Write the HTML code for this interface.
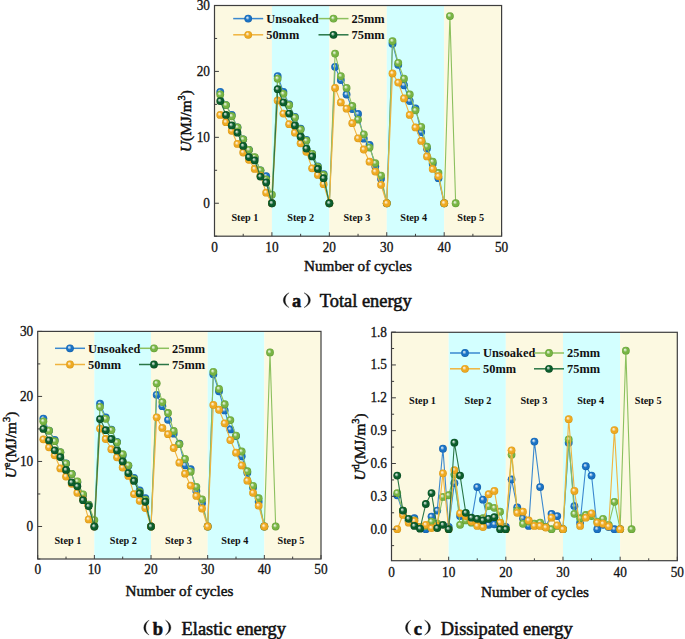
<!DOCTYPE html><html><head><meta charset="utf-8"><style>
html,body{margin:0;padding:0;background:#fff;}
svg{display:block;font-family:"Liberation Serif",serif;}
.tk{font-size:14px;fill:#111;stroke:#111;stroke-width:0.3px;}
.at{font-size:15.2px;fill:#111;stroke:#111;stroke-width:0.45px;}
.lg{font-size:12.4px;font-weight:bold;fill:#111;}
.st{font-size:10.2px;font-weight:bold;fill:#111;}
.cp{font-size:18.4px;fill:#111;stroke:#111;stroke-width:0.55px;}
.sup{font-size:10.5px;}
</style></head><body>
<svg width="685" height="639" viewBox="0 0 685 639">
<defs>
<radialGradient id="spb" cx="0.5" cy="0.5" r="0.5" fx="0.36" fy="0.34"><stop offset="0" stop-color="#e8f1f9"/><stop offset="0.22" stop-color="#a3c7e7"/><stop offset="0.52" stop-color="#1a72c4"/><stop offset="0.8" stop-color="#1a72c4"/><stop offset="1" stop-color="#125da7"/></radialGradient>
<radialGradient id="spg" cx="0.5" cy="0.5" r="0.5" fx="0.36" fy="0.34"><stop offset="0" stop-color="#f2f8ec"/><stop offset="0.22" stop-color="#c9e1b4"/><stop offset="0.52" stop-color="#78b444"/><stop offset="0.8" stop-color="#78b444"/><stop offset="1" stop-color="#5f9b32"/></radialGradient>
<radialGradient id="spo" cx="0.5" cy="0.5" r="0.5" fx="0.36" fy="0.34"><stop offset="0" stop-color="#fdf6e9"/><stop offset="0.22" stop-color="#f8dda7"/><stop offset="0.52" stop-color="#eeaa22"/><stop offset="0.8" stop-color="#eeaa22"/><stop offset="1" stop-color="#d79414"/></radialGradient>
<radialGradient id="spk" cx="0.5" cy="0.5" r="0.5" fx="0.36" fy="0.34"><stop offset="0" stop-color="#e7efea"/><stop offset="0.22" stop-color="#9dbfab"/><stop offset="0.52" stop-color="#0b5e2c"/><stop offset="0.8" stop-color="#0b5e2c"/><stop offset="1" stop-color="#084821"/></radialGradient>
</defs>
<rect width="685" height="639" fill="#fff"/>
<rect x="214.5" y="5.5" width="57.42" height="230.7" fill="#fcf9e1"/>
<rect x="271.92" y="5.5" width="57.42" height="230.7" fill="#d3ffff"/>
<rect x="329.34" y="5.5" width="57.42" height="230.7" fill="#fcf9e1"/>
<rect x="386.76" y="5.5" width="57.42" height="230.7" fill="#d3ffff"/>
<rect x="444.18" y="5.5" width="57.42" height="230.7" fill="#fcf9e1"/>
<text x="244.9" y="221.34" class="st" text-anchor="middle">Step 1</text>
<text x="300.7" y="221.34" class="st" text-anchor="middle">Step 2</text>
<text x="356.9" y="221.34" class="st" text-anchor="middle">Step 3</text>
<text x="413.7" y="221.34" class="st" text-anchor="middle">Step 4</text>
<text x="470.7" y="221.34" class="st" text-anchor="middle">Step 5</text>
<path d="M220.24 91.85 L225.98 105.03 L231.73 114.92 L237.47 127.44 L243.21 139.31 L248.95 149.85 L254.69 157.76 L260.44 170.29 L266.18 176.22 L271.92 203.24 L277.66 76.03 L283.4 91.85 L289.15 104.37 L294.89 116.9 L300.63 128.76 L306.37 139.97 L312.11 153.81 L317.86 166.33 L323.6 174.24 L329.34 203.24 L335.08 66.8 L340.82 79.98 L346.57 94.48 L352.31 108.99 L358.05 113.93 L363.79 138.65 L369.53 144.91 L375.28 166.33 L381.02 178.85 L386.76 203.24 L392.5 43.73 L398.24 64.82 L403.99 85.26 L409.73 101.08 L415.47 108.33 L421.21 132.06 L426.95 148.53 L432.7 163.69 L438.44 178.2 L444.18 203.24" fill="none" stroke="#3a88cf" stroke-width="1.1" stroke-linejoin="round"/>
<circle cx="220.24" cy="91.85" r="3.9" fill="url(#spb)"/>
<circle cx="225.98" cy="105.03" r="3.9" fill="url(#spb)"/>
<circle cx="231.73" cy="114.92" r="3.9" fill="url(#spb)"/>
<circle cx="237.47" cy="127.44" r="3.9" fill="url(#spb)"/>
<circle cx="243.21" cy="139.31" r="3.9" fill="url(#spb)"/>
<circle cx="248.95" cy="149.85" r="3.9" fill="url(#spb)"/>
<circle cx="254.69" cy="157.76" r="3.9" fill="url(#spb)"/>
<circle cx="260.44" cy="170.29" r="3.9" fill="url(#spb)"/>
<circle cx="266.18" cy="176.22" r="3.9" fill="url(#spb)"/>
<circle cx="271.92" cy="203.24" r="3.9" fill="url(#spb)"/>
<circle cx="277.66" cy="76.03" r="3.9" fill="url(#spb)"/>
<circle cx="283.4" cy="91.85" r="3.9" fill="url(#spb)"/>
<circle cx="289.15" cy="104.37" r="3.9" fill="url(#spb)"/>
<circle cx="294.89" cy="116.9" r="3.9" fill="url(#spb)"/>
<circle cx="300.63" cy="128.76" r="3.9" fill="url(#spb)"/>
<circle cx="306.37" cy="139.97" r="3.9" fill="url(#spb)"/>
<circle cx="312.11" cy="153.81" r="3.9" fill="url(#spb)"/>
<circle cx="317.86" cy="166.33" r="3.9" fill="url(#spb)"/>
<circle cx="323.6" cy="174.24" r="3.9" fill="url(#spb)"/>
<circle cx="329.34" cy="203.24" r="3.9" fill="url(#spb)"/>
<circle cx="335.08" cy="66.8" r="3.9" fill="url(#spb)"/>
<circle cx="340.82" cy="79.98" r="3.9" fill="url(#spb)"/>
<circle cx="346.57" cy="94.48" r="3.9" fill="url(#spb)"/>
<circle cx="352.31" cy="108.99" r="3.9" fill="url(#spb)"/>
<circle cx="358.05" cy="113.93" r="3.9" fill="url(#spb)"/>
<circle cx="363.79" cy="138.65" r="3.9" fill="url(#spb)"/>
<circle cx="369.53" cy="144.91" r="3.9" fill="url(#spb)"/>
<circle cx="375.28" cy="166.33" r="3.9" fill="url(#spb)"/>
<circle cx="381.02" cy="178.85" r="3.9" fill="url(#spb)"/>
<circle cx="386.76" cy="203.24" r="3.9" fill="url(#spb)"/>
<circle cx="392.5" cy="43.73" r="3.9" fill="url(#spb)"/>
<circle cx="398.24" cy="64.82" r="3.9" fill="url(#spb)"/>
<circle cx="403.99" cy="85.26" r="3.9" fill="url(#spb)"/>
<circle cx="409.73" cy="101.08" r="3.9" fill="url(#spb)"/>
<circle cx="415.47" cy="108.33" r="3.9" fill="url(#spb)"/>
<circle cx="421.21" cy="132.06" r="3.9" fill="url(#spb)"/>
<circle cx="426.95" cy="148.53" r="3.9" fill="url(#spb)"/>
<circle cx="432.7" cy="163.69" r="3.9" fill="url(#spb)"/>
<circle cx="438.44" cy="178.2" r="3.9" fill="url(#spb)"/>
<circle cx="444.18" cy="203.24" r="3.9" fill="url(#spb)"/>
<path d="M220.24 94.48 L225.98 105.03 L231.73 116.24 L237.47 127.44 L243.21 139.31 L248.95 149.85 L254.69 157.1 L260.44 170.29 L266.18 179.51 L271.92 194.67 L277.66 78.66 L283.4 93.83 L289.15 105.03 L294.89 117.55 L300.63 129.42 L306.37 140.62 L312.11 153.81 L317.86 166.99 L323.6 174.9 L329.34 203.24 L335.08 53.62 L340.82 76.03 L346.57 87.89 L352.31 106.02 L358.05 119.53 L363.79 134.36 L369.53 147.55 L375.28 163.04 L381.02 175.56 L386.76 203.24 L392.5 41.09 L398.24 62.85 L403.99 78.66 L409.73 94.48 L415.47 110.3 L421.21 126.78 L426.95 146.56 L432.7 161.72 L438.44 172.92 L444.18 203.24 L449.92 16.05 L455.66 203.24" fill="none" stroke="#8cc05e" stroke-width="1.1" stroke-linejoin="round"/>
<circle cx="220.24" cy="94.48" r="3.9" fill="url(#spg)"/>
<circle cx="225.98" cy="105.03" r="3.9" fill="url(#spg)"/>
<circle cx="231.73" cy="116.24" r="3.9" fill="url(#spg)"/>
<circle cx="237.47" cy="127.44" r="3.9" fill="url(#spg)"/>
<circle cx="243.21" cy="139.31" r="3.9" fill="url(#spg)"/>
<circle cx="248.95" cy="149.85" r="3.9" fill="url(#spg)"/>
<circle cx="254.69" cy="157.1" r="3.9" fill="url(#spg)"/>
<circle cx="260.44" cy="170.29" r="3.9" fill="url(#spg)"/>
<circle cx="266.18" cy="179.51" r="3.9" fill="url(#spg)"/>
<circle cx="271.92" cy="194.67" r="3.9" fill="url(#spg)"/>
<circle cx="277.66" cy="78.66" r="3.9" fill="url(#spg)"/>
<circle cx="283.4" cy="93.83" r="3.9" fill="url(#spg)"/>
<circle cx="289.15" cy="105.03" r="3.9" fill="url(#spg)"/>
<circle cx="294.89" cy="117.55" r="3.9" fill="url(#spg)"/>
<circle cx="300.63" cy="129.42" r="3.9" fill="url(#spg)"/>
<circle cx="306.37" cy="140.62" r="3.9" fill="url(#spg)"/>
<circle cx="312.11" cy="153.81" r="3.9" fill="url(#spg)"/>
<circle cx="317.86" cy="166.99" r="3.9" fill="url(#spg)"/>
<circle cx="323.6" cy="174.9" r="3.9" fill="url(#spg)"/>
<circle cx="329.34" cy="203.24" r="3.9" fill="url(#spg)"/>
<circle cx="335.08" cy="53.62" r="3.9" fill="url(#spg)"/>
<circle cx="340.82" cy="76.03" r="3.9" fill="url(#spg)"/>
<circle cx="346.57" cy="87.89" r="3.9" fill="url(#spg)"/>
<circle cx="352.31" cy="106.02" r="3.9" fill="url(#spg)"/>
<circle cx="358.05" cy="119.53" r="3.9" fill="url(#spg)"/>
<circle cx="363.79" cy="134.36" r="3.9" fill="url(#spg)"/>
<circle cx="369.53" cy="147.55" r="3.9" fill="url(#spg)"/>
<circle cx="375.28" cy="163.04" r="3.9" fill="url(#spg)"/>
<circle cx="381.02" cy="175.56" r="3.9" fill="url(#spg)"/>
<circle cx="386.76" cy="203.24" r="3.9" fill="url(#spg)"/>
<circle cx="392.5" cy="41.09" r="3.9" fill="url(#spg)"/>
<circle cx="398.24" cy="62.85" r="3.9" fill="url(#spg)"/>
<circle cx="403.99" cy="78.66" r="3.9" fill="url(#spg)"/>
<circle cx="409.73" cy="94.48" r="3.9" fill="url(#spg)"/>
<circle cx="415.47" cy="110.3" r="3.9" fill="url(#spg)"/>
<circle cx="421.21" cy="126.78" r="3.9" fill="url(#spg)"/>
<circle cx="426.95" cy="146.56" r="3.9" fill="url(#spg)"/>
<circle cx="432.7" cy="161.72" r="3.9" fill="url(#spg)"/>
<circle cx="438.44" cy="172.92" r="3.9" fill="url(#spg)"/>
<circle cx="444.18" cy="203.24" r="3.9" fill="url(#spg)"/>
<circle cx="449.92" cy="16.05" r="3.9" fill="url(#spg)"/>
<circle cx="455.66" cy="203.24" r="3.9" fill="url(#spg)"/>
<path d="M220.24 114.92 L225.98 122.17 L231.73 130.74 L237.47 143.92 L243.21 152.49 L248.95 159.74 L254.69 168.97 L260.44 175.56 L266.18 192.7 L271.92 203.24 L277.66 100.42 L283.4 113.6 L289.15 124.15 L294.89 132.71 L300.63 143.26 L306.37 151.83 L312.11 168.31 L317.86 174.9 L323.6 184.13 L329.34 203.24 L335.08 87.89 L340.82 102.39 L346.57 108.66 L352.31 123.16 L358.05 138.32 L363.79 149.52 L369.53 161.72 L375.28 171.6 L381.02 184.79 L386.76 203.24 L392.5 73.39 L398.24 82.62 L403.99 98.44 L409.73 114.92 L415.47 127.44 L421.21 140.95 L426.95 156.44 L432.7 168.97 L438.44 176.22 L444.18 203.24" fill="none" stroke="#f0b43e" stroke-width="1.1" stroke-linejoin="round"/>
<circle cx="220.24" cy="114.92" r="3.9" fill="url(#spo)"/>
<circle cx="225.98" cy="122.17" r="3.9" fill="url(#spo)"/>
<circle cx="231.73" cy="130.74" r="3.9" fill="url(#spo)"/>
<circle cx="237.47" cy="143.92" r="3.9" fill="url(#spo)"/>
<circle cx="243.21" cy="152.49" r="3.9" fill="url(#spo)"/>
<circle cx="248.95" cy="159.74" r="3.9" fill="url(#spo)"/>
<circle cx="254.69" cy="168.97" r="3.9" fill="url(#spo)"/>
<circle cx="260.44" cy="175.56" r="3.9" fill="url(#spo)"/>
<circle cx="266.18" cy="192.7" r="3.9" fill="url(#spo)"/>
<circle cx="271.92" cy="203.24" r="3.9" fill="url(#spo)"/>
<circle cx="277.66" cy="100.42" r="3.9" fill="url(#spo)"/>
<circle cx="283.4" cy="113.6" r="3.9" fill="url(#spo)"/>
<circle cx="289.15" cy="124.15" r="3.9" fill="url(#spo)"/>
<circle cx="294.89" cy="132.71" r="3.9" fill="url(#spo)"/>
<circle cx="300.63" cy="143.26" r="3.9" fill="url(#spo)"/>
<circle cx="306.37" cy="151.83" r="3.9" fill="url(#spo)"/>
<circle cx="312.11" cy="168.31" r="3.9" fill="url(#spo)"/>
<circle cx="317.86" cy="174.9" r="3.9" fill="url(#spo)"/>
<circle cx="323.6" cy="184.13" r="3.9" fill="url(#spo)"/>
<circle cx="329.34" cy="203.24" r="3.9" fill="url(#spo)"/>
<circle cx="335.08" cy="87.89" r="3.9" fill="url(#spo)"/>
<circle cx="340.82" cy="102.39" r="3.9" fill="url(#spo)"/>
<circle cx="346.57" cy="108.66" r="3.9" fill="url(#spo)"/>
<circle cx="352.31" cy="123.16" r="3.9" fill="url(#spo)"/>
<circle cx="358.05" cy="138.32" r="3.9" fill="url(#spo)"/>
<circle cx="363.79" cy="149.52" r="3.9" fill="url(#spo)"/>
<circle cx="369.53" cy="161.72" r="3.9" fill="url(#spo)"/>
<circle cx="375.28" cy="171.6" r="3.9" fill="url(#spo)"/>
<circle cx="381.02" cy="184.79" r="3.9" fill="url(#spo)"/>
<circle cx="386.76" cy="203.24" r="3.9" fill="url(#spo)"/>
<circle cx="392.5" cy="73.39" r="3.9" fill="url(#spo)"/>
<circle cx="398.24" cy="82.62" r="3.9" fill="url(#spo)"/>
<circle cx="403.99" cy="98.44" r="3.9" fill="url(#spo)"/>
<circle cx="409.73" cy="114.92" r="3.9" fill="url(#spo)"/>
<circle cx="415.47" cy="127.44" r="3.9" fill="url(#spo)"/>
<circle cx="421.21" cy="140.95" r="3.9" fill="url(#spo)"/>
<circle cx="426.95" cy="156.44" r="3.9" fill="url(#spo)"/>
<circle cx="432.7" cy="168.97" r="3.9" fill="url(#spo)"/>
<circle cx="438.44" cy="176.22" r="3.9" fill="url(#spo)"/>
<circle cx="444.18" cy="203.24" r="3.9" fill="url(#spo)"/>
<path d="M220.24 101.08 L225.98 114.92 L231.73 125.46 L237.47 132.71 L243.21 145.9 L248.95 157.1 L254.69 160.4 L260.44 176.55 L266.18 182.48 L271.92 203.24 L277.66 89.21 L283.4 102.39 L289.15 113.6 L294.89 125.46 L300.63 136.67 L306.37 148.53 L312.11 156.44 L317.86 168.97 L323.6 178.2 L329.34 203.24" fill="none" stroke="#2a7646" stroke-width="1.1" stroke-linejoin="round"/>
<circle cx="220.24" cy="101.08" r="3.9" fill="url(#spk)"/>
<circle cx="225.98" cy="114.92" r="3.9" fill="url(#spk)"/>
<circle cx="231.73" cy="125.46" r="3.9" fill="url(#spk)"/>
<circle cx="237.47" cy="132.71" r="3.9" fill="url(#spk)"/>
<circle cx="243.21" cy="145.9" r="3.9" fill="url(#spk)"/>
<circle cx="248.95" cy="157.1" r="3.9" fill="url(#spk)"/>
<circle cx="254.69" cy="160.4" r="3.9" fill="url(#spk)"/>
<circle cx="260.44" cy="176.55" r="3.9" fill="url(#spk)"/>
<circle cx="266.18" cy="182.48" r="3.9" fill="url(#spk)"/>
<circle cx="271.92" cy="203.24" r="3.9" fill="url(#spk)"/>
<circle cx="277.66" cy="89.21" r="3.9" fill="url(#spk)"/>
<circle cx="283.4" cy="102.39" r="3.9" fill="url(#spk)"/>
<circle cx="289.15" cy="113.6" r="3.9" fill="url(#spk)"/>
<circle cx="294.89" cy="125.46" r="3.9" fill="url(#spk)"/>
<circle cx="300.63" cy="136.67" r="3.9" fill="url(#spk)"/>
<circle cx="306.37" cy="148.53" r="3.9" fill="url(#spk)"/>
<circle cx="312.11" cy="156.44" r="3.9" fill="url(#spk)"/>
<circle cx="317.86" cy="168.97" r="3.9" fill="url(#spk)"/>
<circle cx="323.6" cy="178.2" r="3.9" fill="url(#spk)"/>
<circle cx="329.34" cy="203.24" r="3.9" fill="url(#spk)"/>
<line x1="233.2" y1="18.6" x2="263.2" y2="18.6" stroke="#3a88cf" stroke-width="1.5"/>
<circle cx="248.2" cy="18.6" r="3.9" fill="url(#spb)"/>
<text x="266.2" y="23" class="lg">Unsoaked</text>
<line x1="318.5" y1="18.6" x2="348.5" y2="18.6" stroke="#8cc05e" stroke-width="1.5"/>
<circle cx="333.5" cy="18.6" r="3.9" fill="url(#spg)"/>
<text x="351.5" y="23" class="lg">25mm</text>
<line x1="233.2" y1="34.8" x2="263.2" y2="34.8" stroke="#f0b43e" stroke-width="1.5"/>
<circle cx="248.2" cy="34.8" r="3.9" fill="url(#spo)"/>
<text x="266.2" y="39.2" class="lg">50mm</text>
<line x1="318.5" y1="34.8" x2="348.5" y2="34.8" stroke="#2a7646" stroke-width="1.5"/>
<circle cx="333.5" cy="34.8" r="3.9" fill="url(#spk)"/>
<text x="351.5" y="39.2" class="lg">75mm</text>
<rect x="214.5" y="5.5" width="287.1" height="230.7" fill="none" stroke="#3e3e3e" stroke-width="1.2"/>
<line x1="214.5" y1="236.2" x2="214.5" y2="232.2" stroke="#3e3e3e" stroke-width="1"/>
<text x="214.5" y="252.2" class="tk" text-anchor="middle" textLength="6.65" lengthAdjust="spacingAndGlyphs">0</text>
<line x1="243.21" y1="236.2" x2="243.21" y2="233.8" stroke="#3e3e3e" stroke-width="1"/>
<line x1="271.92" y1="236.2" x2="271.92" y2="232.2" stroke="#3e3e3e" stroke-width="1"/>
<text x="271.92" y="252.2" class="tk" text-anchor="middle" textLength="13.3" lengthAdjust="spacingAndGlyphs">10</text>
<line x1="300.63" y1="236.2" x2="300.63" y2="233.8" stroke="#3e3e3e" stroke-width="1"/>
<line x1="329.34" y1="236.2" x2="329.34" y2="232.2" stroke="#3e3e3e" stroke-width="1"/>
<text x="329.34" y="252.2" class="tk" text-anchor="middle" textLength="13.3" lengthAdjust="spacingAndGlyphs">20</text>
<line x1="358.05" y1="236.2" x2="358.05" y2="233.8" stroke="#3e3e3e" stroke-width="1"/>
<line x1="386.76" y1="236.2" x2="386.76" y2="232.2" stroke="#3e3e3e" stroke-width="1"/>
<text x="386.76" y="252.2" class="tk" text-anchor="middle" textLength="13.3" lengthAdjust="spacingAndGlyphs">30</text>
<line x1="415.47" y1="236.2" x2="415.47" y2="233.8" stroke="#3e3e3e" stroke-width="1"/>
<line x1="444.18" y1="236.2" x2="444.18" y2="232.2" stroke="#3e3e3e" stroke-width="1"/>
<text x="444.18" y="252.2" class="tk" text-anchor="middle" textLength="13.3" lengthAdjust="spacingAndGlyphs">40</text>
<line x1="472.89" y1="236.2" x2="472.89" y2="233.8" stroke="#3e3e3e" stroke-width="1"/>
<line x1="501.6" y1="236.2" x2="501.6" y2="232.2" stroke="#3e3e3e" stroke-width="1"/>
<text x="501.6" y="252.2" class="tk" text-anchor="middle" textLength="13.3" lengthAdjust="spacingAndGlyphs">50</text>
<line x1="214.5" y1="236.2" x2="217.1" y2="236.2" stroke="#3e3e3e" stroke-width="1"/>
<line x1="214.5" y1="203.24" x2="218.9" y2="203.24" stroke="#3e3e3e" stroke-width="1"/>
<text x="210" y="207.64" class="tk" text-anchor="end" textLength="6.65" lengthAdjust="spacingAndGlyphs">0</text>
<line x1="214.5" y1="170.29" x2="217.1" y2="170.29" stroke="#3e3e3e" stroke-width="1"/>
<line x1="214.5" y1="137.33" x2="218.9" y2="137.33" stroke="#3e3e3e" stroke-width="1"/>
<text x="210" y="141.73" class="tk" text-anchor="end" textLength="13.3" lengthAdjust="spacingAndGlyphs">10</text>
<line x1="214.5" y1="104.37" x2="217.1" y2="104.37" stroke="#3e3e3e" stroke-width="1"/>
<line x1="214.5" y1="71.41" x2="218.9" y2="71.41" stroke="#3e3e3e" stroke-width="1"/>
<text x="210" y="75.81" class="tk" text-anchor="end" textLength="13.3" lengthAdjust="spacingAndGlyphs">20</text>
<line x1="214.5" y1="38.46" x2="217.1" y2="38.46" stroke="#3e3e3e" stroke-width="1"/>
<line x1="214.5" y1="5.5" x2="218.9" y2="5.5" stroke="#3e3e3e" stroke-width="1"/>
<text x="210" y="9.9" class="tk" text-anchor="end" textLength="13.3" lengthAdjust="spacingAndGlyphs">30</text>
<text x="358" y="271.3" class="at" text-anchor="middle">Number of cycles</text>
<text transform="translate(190.5 121) rotate(-90)" class="at" text-anchor="middle"><tspan font-style="italic">U</tspan>(MJ/m<tspan class="sup" dy="-6">3</tspan><tspan dy="6">)</tspan></text>
<path d="M289.1 292.8 C281.37 296.06 281.37 304.34 289.1 307.6 C283.9 304.05 283.9 296.35 289.1 292.8 Z" fill="#111" stroke="#111" stroke-width="0.35"/>
<text x="291.9" y="307.1" class="cp" font-weight="bold">a</text>
<path d="M304 292.8 C312.53 296.06 312.53 304.34 304 307.6 C310 304.05 310 296.35 304 292.8 Z" fill="#111" stroke="#111" stroke-width="0.35"/>
<text x="319.8" y="307.1" class="cp">Total energy</text>
<rect x="37.7" y="331.4" width="56.66" height="227.6" fill="#fcf9e1"/>
<rect x="94.36" y="331.4" width="56.66" height="227.6" fill="#d3ffff"/>
<rect x="151.02" y="331.4" width="56.66" height="227.6" fill="#fcf9e1"/>
<rect x="207.68" y="331.4" width="56.66" height="227.6" fill="#d3ffff"/>
<rect x="264.34" y="331.4" width="56.66" height="227.6" fill="#fcf9e1"/>
<text x="67.9" y="544.39" class="st" text-anchor="middle">Step 1</text>
<text x="123.3" y="544.39" class="st" text-anchor="middle">Step 2</text>
<text x="178.4" y="544.39" class="st" text-anchor="middle">Step 3</text>
<text x="234.8" y="544.39" class="st" text-anchor="middle">Step 4</text>
<text x="291" y="544.39" class="st" text-anchor="middle">Step 5</text>
<path d="M43.37 418.6 L49.03 430.57 L54.7 439.87 L60.36 452.35 L66.03 463.47 L71.7 473.81 L77.36 482.36 L83.03 495.08 L88.69 504.6 L94.36 526.49 L100.03 403.71 L105.69 417.37 L111.36 429.59 L117.02 441.82 L122.69 455.51 L128.36 465.81 L134.02 477.97 L139.69 490.36 L145.35 498.2 L151.02 526.49 L156.69 394.84 L162.35 406.18 L168.02 419.84 L173.68 433.69 L179.35 443.57 L185.02 465.26 L190.68 469.07 L196.35 490.98 L202.01 503.21 L207.68 526.49 L213.35 374.25 L219.01 391.29 L224.68 410.47 L230.34 429.43 L236.01 436.03 L241.68 456.25 L247.34 472.77 L253.01 487.6 L258.67 501.77 L264.34 526.49" fill="none" stroke="#3a88cf" stroke-width="1.1" stroke-linejoin="round"/>
<circle cx="43.37" cy="418.6" r="3.9" fill="url(#spb)"/>
<circle cx="49.03" cy="430.57" r="3.9" fill="url(#spb)"/>
<circle cx="54.7" cy="439.87" r="3.9" fill="url(#spb)"/>
<circle cx="60.36" cy="452.35" r="3.9" fill="url(#spb)"/>
<circle cx="66.03" cy="463.47" r="3.9" fill="url(#spb)"/>
<circle cx="71.7" cy="473.81" r="3.9" fill="url(#spb)"/>
<circle cx="77.36" cy="482.36" r="3.9" fill="url(#spb)"/>
<circle cx="83.03" cy="495.08" r="3.9" fill="url(#spb)"/>
<circle cx="88.69" cy="504.6" r="3.9" fill="url(#spb)"/>
<circle cx="94.36" cy="526.49" r="3.9" fill="url(#spb)"/>
<circle cx="100.03" cy="403.71" r="3.9" fill="url(#spb)"/>
<circle cx="105.69" cy="417.37" r="3.9" fill="url(#spb)"/>
<circle cx="111.36" cy="429.59" r="3.9" fill="url(#spb)"/>
<circle cx="117.02" cy="441.82" r="3.9" fill="url(#spb)"/>
<circle cx="122.69" cy="455.51" r="3.9" fill="url(#spb)"/>
<circle cx="128.36" cy="465.81" r="3.9" fill="url(#spb)"/>
<circle cx="134.02" cy="477.97" r="3.9" fill="url(#spb)"/>
<circle cx="139.69" cy="490.36" r="3.9" fill="url(#spb)"/>
<circle cx="145.35" cy="498.2" r="3.9" fill="url(#spb)"/>
<circle cx="151.02" cy="526.49" r="3.9" fill="url(#spb)"/>
<circle cx="156.69" cy="394.84" r="3.9" fill="url(#spb)"/>
<circle cx="162.35" cy="406.18" r="3.9" fill="url(#spb)"/>
<circle cx="168.02" cy="419.84" r="3.9" fill="url(#spb)"/>
<circle cx="173.68" cy="433.69" r="3.9" fill="url(#spb)"/>
<circle cx="179.35" cy="443.57" r="3.9" fill="url(#spb)"/>
<circle cx="185.02" cy="465.26" r="3.9" fill="url(#spb)"/>
<circle cx="190.68" cy="469.07" r="3.9" fill="url(#spb)"/>
<circle cx="196.35" cy="490.98" r="3.9" fill="url(#spb)"/>
<circle cx="202.01" cy="503.21" r="3.9" fill="url(#spb)"/>
<circle cx="207.68" cy="526.49" r="3.9" fill="url(#spb)"/>
<circle cx="213.35" cy="374.25" r="3.9" fill="url(#spb)"/>
<circle cx="219.01" cy="391.29" r="3.9" fill="url(#spb)"/>
<circle cx="224.68" cy="410.47" r="3.9" fill="url(#spb)"/>
<circle cx="230.34" cy="429.43" r="3.9" fill="url(#spb)"/>
<circle cx="236.01" cy="436.03" r="3.9" fill="url(#spb)"/>
<circle cx="241.68" cy="456.25" r="3.9" fill="url(#spb)"/>
<circle cx="247.34" cy="472.77" r="3.9" fill="url(#spb)"/>
<circle cx="253.01" cy="487.6" r="3.9" fill="url(#spb)"/>
<circle cx="258.67" cy="501.77" r="3.9" fill="url(#spb)"/>
<circle cx="264.34" cy="526.49" r="3.9" fill="url(#spb)"/>
<path d="M43.37 421.33 L49.03 430.7 L54.7 441.17 L60.36 452.22 L66.03 463.54 L71.7 474.01 L77.36 481.42 L83.03 494.3 L88.69 504.99 L94.36 520.05 L100.03 406.83 L105.69 418.8 L111.36 430.11 L117.02 442.34 L122.69 454.24 L128.36 465.36 L134.02 479.08 L139.69 491.99 L145.35 499.56 L151.02 526.49 L156.69 383.29 L162.35 402.09 L168.02 413.01 L173.68 431.02 L179.35 444.22 L185.02 458.92 L190.68 471.67 L196.35 486.82 L202.01 499.37 L207.68 526.49 L213.35 371.85 L219.01 388.89 L224.68 404.23 L230.34 420.03 L236.01 435.58 L241.68 451.51 L247.34 471.18 L253.01 485.78 L258.67 498.2 L264.34 526.49 L270.01 352.4 L275.67 526.49" fill="none" stroke="#8cc05e" stroke-width="1.1" stroke-linejoin="round"/>
<circle cx="43.37" cy="421.33" r="3.9" fill="url(#spg)"/>
<circle cx="49.03" cy="430.7" r="3.9" fill="url(#spg)"/>
<circle cx="54.7" cy="441.17" r="3.9" fill="url(#spg)"/>
<circle cx="60.36" cy="452.22" r="3.9" fill="url(#spg)"/>
<circle cx="66.03" cy="463.54" r="3.9" fill="url(#spg)"/>
<circle cx="71.7" cy="474.01" r="3.9" fill="url(#spg)"/>
<circle cx="77.36" cy="481.42" r="3.9" fill="url(#spg)"/>
<circle cx="83.03" cy="494.3" r="3.9" fill="url(#spg)"/>
<circle cx="88.69" cy="504.99" r="3.9" fill="url(#spg)"/>
<circle cx="94.36" cy="520.05" r="3.9" fill="url(#spg)"/>
<circle cx="100.03" cy="406.83" r="3.9" fill="url(#spg)"/>
<circle cx="105.69" cy="418.8" r="3.9" fill="url(#spg)"/>
<circle cx="111.36" cy="430.11" r="3.9" fill="url(#spg)"/>
<circle cx="117.02" cy="442.34" r="3.9" fill="url(#spg)"/>
<circle cx="122.69" cy="454.24" r="3.9" fill="url(#spg)"/>
<circle cx="128.36" cy="465.36" r="3.9" fill="url(#spg)"/>
<circle cx="134.02" cy="479.08" r="3.9" fill="url(#spg)"/>
<circle cx="139.69" cy="491.99" r="3.9" fill="url(#spg)"/>
<circle cx="145.35" cy="499.56" r="3.9" fill="url(#spg)"/>
<circle cx="151.02" cy="526.49" r="3.9" fill="url(#spg)"/>
<circle cx="156.69" cy="383.29" r="3.9" fill="url(#spg)"/>
<circle cx="162.35" cy="402.09" r="3.9" fill="url(#spg)"/>
<circle cx="168.02" cy="413.01" r="3.9" fill="url(#spg)"/>
<circle cx="173.68" cy="431.02" r="3.9" fill="url(#spg)"/>
<circle cx="179.35" cy="444.22" r="3.9" fill="url(#spg)"/>
<circle cx="185.02" cy="458.92" r="3.9" fill="url(#spg)"/>
<circle cx="190.68" cy="471.67" r="3.9" fill="url(#spg)"/>
<circle cx="196.35" cy="486.82" r="3.9" fill="url(#spg)"/>
<circle cx="202.01" cy="499.37" r="3.9" fill="url(#spg)"/>
<circle cx="207.68" cy="526.49" r="3.9" fill="url(#spg)"/>
<circle cx="213.35" cy="371.85" r="3.9" fill="url(#spg)"/>
<circle cx="219.01" cy="388.89" r="3.9" fill="url(#spg)"/>
<circle cx="224.68" cy="404.23" r="3.9" fill="url(#spg)"/>
<circle cx="230.34" cy="420.03" r="3.9" fill="url(#spg)"/>
<circle cx="236.01" cy="435.58" r="3.9" fill="url(#spg)"/>
<circle cx="241.68" cy="451.51" r="3.9" fill="url(#spg)"/>
<circle cx="247.34" cy="471.18" r="3.9" fill="url(#spg)"/>
<circle cx="253.01" cy="485.78" r="3.9" fill="url(#spg)"/>
<circle cx="258.67" cy="498.2" r="3.9" fill="url(#spg)"/>
<circle cx="264.34" cy="526.49" r="3.9" fill="url(#spg)"/>
<circle cx="270.01" cy="352.4" r="3.9" fill="url(#spg)"/>
<circle cx="275.67" cy="526.49" r="3.9" fill="url(#spg)"/>
<path d="M43.37 439.35 L49.03 447.35 L54.7 455.34 L60.36 468.45 L66.03 476.54 L71.7 483.83 L77.36 492.74 L83.03 499.37 L88.69 519.4 L94.36 526.49 L100.03 428.55 L105.69 438.99 L111.36 449.23 L117.02 457.36 L122.69 467.5 L128.36 475.89 L134.02 494.1 L139.69 500.8 L145.35 508.02 L151.02 526.49 L156.69 417.37 L162.35 427.97 L168.02 434.21 L173.68 448 L179.35 462.63 L185.02 473.68 L190.68 485.62 L196.35 495.95 L202.01 508.51 L207.68 526.49 L213.35 404.91 L219.01 409.76 L224.68 423.29 L230.34 440.03 L236.01 452.65 L241.68 465.42 L247.34 480.64 L253.01 492.83 L258.67 505.71 L264.34 526.49" fill="none" stroke="#f0b43e" stroke-width="1.1" stroke-linejoin="round"/>
<circle cx="43.37" cy="439.35" r="3.9" fill="url(#spo)"/>
<circle cx="49.03" cy="447.35" r="3.9" fill="url(#spo)"/>
<circle cx="54.7" cy="455.34" r="3.9" fill="url(#spo)"/>
<circle cx="60.36" cy="468.45" r="3.9" fill="url(#spo)"/>
<circle cx="66.03" cy="476.54" r="3.9" fill="url(#spo)"/>
<circle cx="71.7" cy="483.83" r="3.9" fill="url(#spo)"/>
<circle cx="77.36" cy="492.74" r="3.9" fill="url(#spo)"/>
<circle cx="83.03" cy="499.37" r="3.9" fill="url(#spo)"/>
<circle cx="88.69" cy="519.4" r="3.9" fill="url(#spo)"/>
<circle cx="94.36" cy="526.49" r="3.9" fill="url(#spo)"/>
<circle cx="100.03" cy="428.55" r="3.9" fill="url(#spo)"/>
<circle cx="105.69" cy="438.99" r="3.9" fill="url(#spo)"/>
<circle cx="111.36" cy="449.23" r="3.9" fill="url(#spo)"/>
<circle cx="117.02" cy="457.36" r="3.9" fill="url(#spo)"/>
<circle cx="122.69" cy="467.5" r="3.9" fill="url(#spo)"/>
<circle cx="128.36" cy="475.89" r="3.9" fill="url(#spo)"/>
<circle cx="134.02" cy="494.1" r="3.9" fill="url(#spo)"/>
<circle cx="139.69" cy="500.8" r="3.9" fill="url(#spo)"/>
<circle cx="145.35" cy="508.02" r="3.9" fill="url(#spo)"/>
<circle cx="151.02" cy="526.49" r="3.9" fill="url(#spo)"/>
<circle cx="156.69" cy="417.37" r="3.9" fill="url(#spo)"/>
<circle cx="162.35" cy="427.97" r="3.9" fill="url(#spo)"/>
<circle cx="168.02" cy="434.21" r="3.9" fill="url(#spo)"/>
<circle cx="173.68" cy="448" r="3.9" fill="url(#spo)"/>
<circle cx="179.35" cy="462.63" r="3.9" fill="url(#spo)"/>
<circle cx="185.02" cy="473.68" r="3.9" fill="url(#spo)"/>
<circle cx="190.68" cy="485.62" r="3.9" fill="url(#spo)"/>
<circle cx="196.35" cy="495.95" r="3.9" fill="url(#spo)"/>
<circle cx="202.01" cy="508.51" r="3.9" fill="url(#spo)"/>
<circle cx="207.68" cy="526.49" r="3.9" fill="url(#spo)"/>
<circle cx="213.35" cy="404.91" r="3.9" fill="url(#spo)"/>
<circle cx="219.01" cy="409.76" r="3.9" fill="url(#spo)"/>
<circle cx="224.68" cy="423.29" r="3.9" fill="url(#spo)"/>
<circle cx="230.34" cy="440.03" r="3.9" fill="url(#spo)"/>
<circle cx="236.01" cy="452.65" r="3.9" fill="url(#spo)"/>
<circle cx="241.68" cy="465.42" r="3.9" fill="url(#spo)"/>
<circle cx="247.34" cy="480.64" r="3.9" fill="url(#spo)"/>
<circle cx="253.01" cy="492.83" r="3.9" fill="url(#spo)"/>
<circle cx="258.67" cy="505.71" r="3.9" fill="url(#spo)"/>
<circle cx="264.34" cy="526.49" r="3.9" fill="url(#spo)"/>
<path d="M43.37 428.88 L49.03 440.45 L54.7 450.37 L60.36 457.1 L66.03 469.94 L71.7 482.46 L77.36 486.36 L83.03 500.21 L88.69 506.26 L94.36 526.49 L100.03 419.12 L105.69 430.18 L111.36 439.02 L117.02 450.43 L122.69 461.42 L128.36 473.03 L134.02 480.93 L139.69 493.39 L145.35 501.77 L151.02 526.49" fill="none" stroke="#2a7646" stroke-width="1.1" stroke-linejoin="round"/>
<circle cx="43.37" cy="428.88" r="3.9" fill="url(#spk)"/>
<circle cx="49.03" cy="440.45" r="3.9" fill="url(#spk)"/>
<circle cx="54.7" cy="450.37" r="3.9" fill="url(#spk)"/>
<circle cx="60.36" cy="457.1" r="3.9" fill="url(#spk)"/>
<circle cx="66.03" cy="469.94" r="3.9" fill="url(#spk)"/>
<circle cx="71.7" cy="482.46" r="3.9" fill="url(#spk)"/>
<circle cx="77.36" cy="486.36" r="3.9" fill="url(#spk)"/>
<circle cx="83.03" cy="500.21" r="3.9" fill="url(#spk)"/>
<circle cx="88.69" cy="506.26" r="3.9" fill="url(#spk)"/>
<circle cx="94.36" cy="526.49" r="3.9" fill="url(#spk)"/>
<circle cx="100.03" cy="419.12" r="3.9" fill="url(#spk)"/>
<circle cx="105.69" cy="430.18" r="3.9" fill="url(#spk)"/>
<circle cx="111.36" cy="439.02" r="3.9" fill="url(#spk)"/>
<circle cx="117.02" cy="450.43" r="3.9" fill="url(#spk)"/>
<circle cx="122.69" cy="461.42" r="3.9" fill="url(#spk)"/>
<circle cx="128.36" cy="473.03" r="3.9" fill="url(#spk)"/>
<circle cx="134.02" cy="480.93" r="3.9" fill="url(#spk)"/>
<circle cx="139.69" cy="493.39" r="3.9" fill="url(#spk)"/>
<circle cx="145.35" cy="501.77" r="3.9" fill="url(#spk)"/>
<circle cx="151.02" cy="526.49" r="3.9" fill="url(#spk)"/>
<line x1="55" y1="348.3" x2="85" y2="348.3" stroke="#3a88cf" stroke-width="1.5"/>
<circle cx="70" cy="348.3" r="3.9" fill="url(#spb)"/>
<text x="88" y="352.7" class="lg">Unsoaked</text>
<line x1="139" y1="348.3" x2="169" y2="348.3" stroke="#8cc05e" stroke-width="1.5"/>
<circle cx="154" cy="348.3" r="3.9" fill="url(#spg)"/>
<text x="172" y="352.7" class="lg">25mm</text>
<line x1="55" y1="364.5" x2="85" y2="364.5" stroke="#f0b43e" stroke-width="1.5"/>
<circle cx="70" cy="364.5" r="3.9" fill="url(#spo)"/>
<text x="88" y="368.9" class="lg">50mm</text>
<line x1="139" y1="364.5" x2="169" y2="364.5" stroke="#2a7646" stroke-width="1.5"/>
<circle cx="154" cy="364.5" r="3.9" fill="url(#spk)"/>
<text x="172" y="368.9" class="lg">75mm</text>
<rect x="37.7" y="331.4" width="283.3" height="227.6" fill="none" stroke="#3e3e3e" stroke-width="1.2"/>
<line x1="37.7" y1="559" x2="37.7" y2="555" stroke="#3e3e3e" stroke-width="1"/>
<text x="37.7" y="573.8" class="tk" text-anchor="middle" textLength="6.65" lengthAdjust="spacingAndGlyphs">0</text>
<line x1="66.03" y1="559" x2="66.03" y2="556.6" stroke="#3e3e3e" stroke-width="1"/>
<line x1="94.36" y1="559" x2="94.36" y2="555" stroke="#3e3e3e" stroke-width="1"/>
<text x="94.36" y="573.8" class="tk" text-anchor="middle" textLength="13.3" lengthAdjust="spacingAndGlyphs">10</text>
<line x1="122.69" y1="559" x2="122.69" y2="556.6" stroke="#3e3e3e" stroke-width="1"/>
<line x1="151.02" y1="559" x2="151.02" y2="555" stroke="#3e3e3e" stroke-width="1"/>
<text x="151.02" y="573.8" class="tk" text-anchor="middle" textLength="13.3" lengthAdjust="spacingAndGlyphs">20</text>
<line x1="179.35" y1="559" x2="179.35" y2="556.6" stroke="#3e3e3e" stroke-width="1"/>
<line x1="207.68" y1="559" x2="207.68" y2="555" stroke="#3e3e3e" stroke-width="1"/>
<text x="207.68" y="573.8" class="tk" text-anchor="middle" textLength="13.3" lengthAdjust="spacingAndGlyphs">30</text>
<line x1="236.01" y1="559" x2="236.01" y2="556.6" stroke="#3e3e3e" stroke-width="1"/>
<line x1="264.34" y1="559" x2="264.34" y2="555" stroke="#3e3e3e" stroke-width="1"/>
<text x="264.34" y="573.8" class="tk" text-anchor="middle" textLength="13.3" lengthAdjust="spacingAndGlyphs">40</text>
<line x1="292.67" y1="559" x2="292.67" y2="556.6" stroke="#3e3e3e" stroke-width="1"/>
<line x1="321" y1="559" x2="321" y2="555" stroke="#3e3e3e" stroke-width="1"/>
<text x="321" y="573.8" class="tk" text-anchor="middle" textLength="13.3" lengthAdjust="spacingAndGlyphs">50</text>
<line x1="37.7" y1="559" x2="40.3" y2="559" stroke="#3e3e3e" stroke-width="1"/>
<line x1="37.7" y1="526.49" x2="42.1" y2="526.49" stroke="#3e3e3e" stroke-width="1"/>
<text x="33.2" y="530.89" class="tk" text-anchor="end" textLength="6.65" lengthAdjust="spacingAndGlyphs">0</text>
<line x1="37.7" y1="493.97" x2="40.3" y2="493.97" stroke="#3e3e3e" stroke-width="1"/>
<line x1="37.7" y1="461.46" x2="42.1" y2="461.46" stroke="#3e3e3e" stroke-width="1"/>
<text x="33.2" y="465.86" class="tk" text-anchor="end" textLength="13.3" lengthAdjust="spacingAndGlyphs">10</text>
<line x1="37.7" y1="428.94" x2="40.3" y2="428.94" stroke="#3e3e3e" stroke-width="1"/>
<line x1="37.7" y1="396.43" x2="42.1" y2="396.43" stroke="#3e3e3e" stroke-width="1"/>
<text x="33.2" y="400.83" class="tk" text-anchor="end" textLength="13.3" lengthAdjust="spacingAndGlyphs">20</text>
<line x1="37.7" y1="363.91" x2="40.3" y2="363.91" stroke="#3e3e3e" stroke-width="1"/>
<line x1="37.7" y1="331.4" x2="42.1" y2="331.4" stroke="#3e3e3e" stroke-width="1"/>
<text x="33.2" y="335.8" class="tk" text-anchor="end" textLength="13.3" lengthAdjust="spacingAndGlyphs">30</text>
<text x="179.5" y="596.3" class="at" text-anchor="middle">Number of cycles</text>
<text transform="translate(15.5 445) rotate(-90)" class="at" text-anchor="middle"><tspan font-style="italic">U</tspan><tspan class="sup" dy="-6">e</tspan><tspan dy="6">(MJ/m</tspan><tspan class="sup" dy="-6">3</tspan><tspan dy="6">)</tspan></text>
<path d="M149.1 620.2 C142.03 623.46 142.03 631.74 149.1 635 C144.57 631.45 144.57 623.75 149.1 620.2 Z" fill="#111" stroke="#111" stroke-width="0.35"/>
<text x="152.7" y="634.5" class="cp" font-weight="bold">b</text>
<path d="M165.5 620.2 C172.7 623.46 172.7 631.74 165.5 635 C170.17 631.45 170.17 623.75 165.5 620.2 Z" fill="#111" stroke="#111" stroke-width="0.35"/>
<text x="181.6" y="634.5" class="cp">Elastic energy</text>
<rect x="391.5" y="332.3" width="57.16" height="228.4" fill="#fcf9e1"/>
<rect x="448.66" y="332.3" width="57.16" height="228.4" fill="#d3ffff"/>
<rect x="505.82" y="332.3" width="57.16" height="228.4" fill="#fcf9e1"/>
<rect x="562.98" y="332.3" width="57.16" height="228.4" fill="#d3ffff"/>
<rect x="620.14" y="332.3" width="57.16" height="228.4" fill="#fcf9e1"/>
<text x="422.5" y="403.59" class="st" text-anchor="middle">Step 1</text>
<text x="478" y="403.59" class="st" text-anchor="middle">Step 2</text>
<text x="533.9" y="403.59" class="st" text-anchor="middle">Step 3</text>
<text x="590.6" y="403.59" class="st" text-anchor="middle">Step 4</text>
<text x="648.2" y="403.59" class="st" text-anchor="middle">Step 5</text>
<path d="M397.22 495.26 L402.93 512.78 L408.65 520.44 L414.36 518.25 L420.08 528.11 L425.8 529.2 L431.51 516.61 L437.23 510.59 L442.94 448.72 L448.66 527.01 L454.38 483.21 L460.09 516.06 L465.81 518.25 L471.52 520.44 L477.24 487.04 L482.96 499.64 L488.67 524.82 L494.39 524.27 L500.1 523.73 L505.82 527.01 L511.54 479.38 L517.25 507.3 L522.97 518.25 L528.68 525.92 L534.4 441.6 L540.12 487.04 L545.83 527.01 L551.55 513.87 L557.26 516.06 L562.98 529.2 L568.7 442.7 L574.41 506.21 L580.13 522.63 L585.84 466.24 L591.56 475.55 L597.28 529.2 L602.99 524.82 L608.71 527.01 L614.42 529.2 L620.14 529.2" fill="none" stroke="#3a88cf" stroke-width="1.1" stroke-linejoin="round"/>
<circle cx="397.22" cy="495.26" r="3.9" fill="url(#spb)"/>
<circle cx="402.93" cy="512.78" r="3.9" fill="url(#spb)"/>
<circle cx="408.65" cy="520.44" r="3.9" fill="url(#spb)"/>
<circle cx="414.36" cy="518.25" r="3.9" fill="url(#spb)"/>
<circle cx="420.08" cy="528.11" r="3.9" fill="url(#spb)"/>
<circle cx="425.8" cy="529.2" r="3.9" fill="url(#spb)"/>
<circle cx="431.51" cy="516.61" r="3.9" fill="url(#spb)"/>
<circle cx="437.23" cy="510.59" r="3.9" fill="url(#spb)"/>
<circle cx="442.94" cy="448.72" r="3.9" fill="url(#spb)"/>
<circle cx="448.66" cy="527.01" r="3.9" fill="url(#spb)"/>
<circle cx="454.38" cy="483.21" r="3.9" fill="url(#spb)"/>
<circle cx="460.09" cy="516.06" r="3.9" fill="url(#spb)"/>
<circle cx="465.81" cy="518.25" r="3.9" fill="url(#spb)"/>
<circle cx="471.52" cy="520.44" r="3.9" fill="url(#spb)"/>
<circle cx="477.24" cy="487.04" r="3.9" fill="url(#spb)"/>
<circle cx="482.96" cy="499.64" r="3.9" fill="url(#spb)"/>
<circle cx="488.67" cy="524.82" r="3.9" fill="url(#spb)"/>
<circle cx="494.39" cy="524.27" r="3.9" fill="url(#spb)"/>
<circle cx="500.1" cy="523.73" r="3.9" fill="url(#spb)"/>
<circle cx="505.82" cy="527.01" r="3.9" fill="url(#spb)"/>
<circle cx="511.54" cy="479.38" r="3.9" fill="url(#spb)"/>
<circle cx="517.25" cy="507.3" r="3.9" fill="url(#spb)"/>
<circle cx="522.97" cy="518.25" r="3.9" fill="url(#spb)"/>
<circle cx="528.68" cy="525.92" r="3.9" fill="url(#spb)"/>
<circle cx="534.4" cy="441.6" r="3.9" fill="url(#spb)"/>
<circle cx="540.12" cy="487.04" r="3.9" fill="url(#spb)"/>
<circle cx="545.83" cy="527.01" r="3.9" fill="url(#spb)"/>
<circle cx="551.55" cy="513.87" r="3.9" fill="url(#spb)"/>
<circle cx="557.26" cy="516.06" r="3.9" fill="url(#spb)"/>
<circle cx="562.98" cy="529.2" r="3.9" fill="url(#spb)"/>
<circle cx="568.7" cy="442.7" r="3.9" fill="url(#spb)"/>
<circle cx="574.41" cy="506.21" r="3.9" fill="url(#spb)"/>
<circle cx="580.13" cy="522.63" r="3.9" fill="url(#spb)"/>
<circle cx="585.84" cy="466.24" r="3.9" fill="url(#spb)"/>
<circle cx="591.56" cy="475.55" r="3.9" fill="url(#spb)"/>
<circle cx="597.28" cy="529.2" r="3.9" fill="url(#spb)"/>
<circle cx="602.99" cy="524.82" r="3.9" fill="url(#spb)"/>
<circle cx="608.71" cy="527.01" r="3.9" fill="url(#spb)"/>
<circle cx="614.42" cy="529.2" r="3.9" fill="url(#spb)"/>
<circle cx="620.14" cy="529.2" r="3.9" fill="url(#spb)"/>
<path d="M397.22 493.07 L402.93 510.59 L408.65 520.44 L414.36 520.44 L420.08 527.01 L425.8 525.92 L431.51 521.54 L437.23 523.73 L442.94 496.9 L448.66 495.26 L454.38 474.45 L460.09 524.82 L465.81 520.44 L471.52 522.63 L477.24 519.35 L482.96 518.25 L488.67 506.21 L494.39 507.85 L500.1 511.68 L505.82 529.2 L511.54 454.74 L517.25 510.59 L522.97 523.73 L528.68 521.54 L534.4 523.73 L540.12 522.63 L545.83 527.01 L551.55 529.2 L557.26 525.92 L562.98 529.2 L568.7 439.41 L574.41 513.87 L580.13 518.25 L585.84 514.97 L591.56 516.06 L597.28 521.54 L602.99 518.8 L608.71 524.82 L614.42 501.83 L620.14 529.2 L625.86 350.72 L631.57 529.2" fill="none" stroke="#8cc05e" stroke-width="1.1" stroke-linejoin="round"/>
<circle cx="397.22" cy="493.07" r="3.9" fill="url(#spg)"/>
<circle cx="402.93" cy="510.59" r="3.9" fill="url(#spg)"/>
<circle cx="408.65" cy="520.44" r="3.9" fill="url(#spg)"/>
<circle cx="414.36" cy="520.44" r="3.9" fill="url(#spg)"/>
<circle cx="420.08" cy="527.01" r="3.9" fill="url(#spg)"/>
<circle cx="425.8" cy="525.92" r="3.9" fill="url(#spg)"/>
<circle cx="431.51" cy="521.54" r="3.9" fill="url(#spg)"/>
<circle cx="437.23" cy="523.73" r="3.9" fill="url(#spg)"/>
<circle cx="442.94" cy="496.9" r="3.9" fill="url(#spg)"/>
<circle cx="448.66" cy="495.26" r="3.9" fill="url(#spg)"/>
<circle cx="454.38" cy="474.45" r="3.9" fill="url(#spg)"/>
<circle cx="460.09" cy="524.82" r="3.9" fill="url(#spg)"/>
<circle cx="465.81" cy="520.44" r="3.9" fill="url(#spg)"/>
<circle cx="471.52" cy="522.63" r="3.9" fill="url(#spg)"/>
<circle cx="477.24" cy="519.35" r="3.9" fill="url(#spg)"/>
<circle cx="482.96" cy="518.25" r="3.9" fill="url(#spg)"/>
<circle cx="488.67" cy="506.21" r="3.9" fill="url(#spg)"/>
<circle cx="494.39" cy="507.85" r="3.9" fill="url(#spg)"/>
<circle cx="500.1" cy="511.68" r="3.9" fill="url(#spg)"/>
<circle cx="505.82" cy="529.2" r="3.9" fill="url(#spg)"/>
<circle cx="511.54" cy="454.74" r="3.9" fill="url(#spg)"/>
<circle cx="517.25" cy="510.59" r="3.9" fill="url(#spg)"/>
<circle cx="522.97" cy="523.73" r="3.9" fill="url(#spg)"/>
<circle cx="528.68" cy="521.54" r="3.9" fill="url(#spg)"/>
<circle cx="534.4" cy="523.73" r="3.9" fill="url(#spg)"/>
<circle cx="540.12" cy="522.63" r="3.9" fill="url(#spg)"/>
<circle cx="545.83" cy="527.01" r="3.9" fill="url(#spg)"/>
<circle cx="551.55" cy="529.2" r="3.9" fill="url(#spg)"/>
<circle cx="557.26" cy="525.92" r="3.9" fill="url(#spg)"/>
<circle cx="562.98" cy="529.2" r="3.9" fill="url(#spg)"/>
<circle cx="568.7" cy="439.41" r="3.9" fill="url(#spg)"/>
<circle cx="574.41" cy="513.87" r="3.9" fill="url(#spg)"/>
<circle cx="580.13" cy="518.25" r="3.9" fill="url(#spg)"/>
<circle cx="585.84" cy="514.97" r="3.9" fill="url(#spg)"/>
<circle cx="591.56" cy="516.06" r="3.9" fill="url(#spg)"/>
<circle cx="597.28" cy="521.54" r="3.9" fill="url(#spg)"/>
<circle cx="602.99" cy="518.8" r="3.9" fill="url(#spg)"/>
<circle cx="608.71" cy="524.82" r="3.9" fill="url(#spg)"/>
<circle cx="614.42" cy="501.83" r="3.9" fill="url(#spg)"/>
<circle cx="620.14" cy="529.2" r="3.9" fill="url(#spg)"/>
<circle cx="625.86" cy="350.72" r="3.9" fill="url(#spg)"/>
<circle cx="631.57" cy="529.2" r="3.9" fill="url(#spg)"/>
<path d="M397.22 529.2 L402.93 514.97 L408.65 522.63 L414.36 520.99 L420.08 527.01 L425.8 524.82 L431.51 528.11 L437.23 525.92 L442.94 473.36 L448.66 529.2 L454.38 470.07 L460.09 513.32 L465.81 516.06 L471.52 521.54 L477.24 525.92 L482.96 527.01 L488.67 494.16 L494.39 490.88 L500.1 522.63 L505.82 529.2 L511.54 450.36 L517.25 512.78 L522.97 511.68 L528.68 520.44 L534.4 525.92 L540.12 525.92 L545.83 527.56 L551.55 517.7 L557.26 525.37 L562.98 529.2 L568.7 419.15 L574.41 490.88 L580.13 525.92 L585.84 517.7 L591.56 513.32 L597.28 522.63 L602.99 523.73 L608.71 526.46 L614.42 430.1 L620.14 529.2" fill="none" stroke="#f0b43e" stroke-width="1.1" stroke-linejoin="round"/>
<circle cx="397.22" cy="529.2" r="3.9" fill="url(#spo)"/>
<circle cx="402.93" cy="514.97" r="3.9" fill="url(#spo)"/>
<circle cx="408.65" cy="522.63" r="3.9" fill="url(#spo)"/>
<circle cx="414.36" cy="520.99" r="3.9" fill="url(#spo)"/>
<circle cx="420.08" cy="527.01" r="3.9" fill="url(#spo)"/>
<circle cx="425.8" cy="524.82" r="3.9" fill="url(#spo)"/>
<circle cx="431.51" cy="528.11" r="3.9" fill="url(#spo)"/>
<circle cx="437.23" cy="525.92" r="3.9" fill="url(#spo)"/>
<circle cx="442.94" cy="473.36" r="3.9" fill="url(#spo)"/>
<circle cx="448.66" cy="529.2" r="3.9" fill="url(#spo)"/>
<circle cx="454.38" cy="470.07" r="3.9" fill="url(#spo)"/>
<circle cx="460.09" cy="513.32" r="3.9" fill="url(#spo)"/>
<circle cx="465.81" cy="516.06" r="3.9" fill="url(#spo)"/>
<circle cx="471.52" cy="521.54" r="3.9" fill="url(#spo)"/>
<circle cx="477.24" cy="525.92" r="3.9" fill="url(#spo)"/>
<circle cx="482.96" cy="527.01" r="3.9" fill="url(#spo)"/>
<circle cx="488.67" cy="494.16" r="3.9" fill="url(#spo)"/>
<circle cx="494.39" cy="490.88" r="3.9" fill="url(#spo)"/>
<circle cx="500.1" cy="522.63" r="3.9" fill="url(#spo)"/>
<circle cx="505.82" cy="529.2" r="3.9" fill="url(#spo)"/>
<circle cx="511.54" cy="450.36" r="3.9" fill="url(#spo)"/>
<circle cx="517.25" cy="512.78" r="3.9" fill="url(#spo)"/>
<circle cx="522.97" cy="511.68" r="3.9" fill="url(#spo)"/>
<circle cx="528.68" cy="520.44" r="3.9" fill="url(#spo)"/>
<circle cx="534.4" cy="525.92" r="3.9" fill="url(#spo)"/>
<circle cx="540.12" cy="525.92" r="3.9" fill="url(#spo)"/>
<circle cx="545.83" cy="527.56" r="3.9" fill="url(#spo)"/>
<circle cx="551.55" cy="517.7" r="3.9" fill="url(#spo)"/>
<circle cx="557.26" cy="525.37" r="3.9" fill="url(#spo)"/>
<circle cx="562.98" cy="529.2" r="3.9" fill="url(#spo)"/>
<circle cx="568.7" cy="419.15" r="3.9" fill="url(#spo)"/>
<circle cx="574.41" cy="490.88" r="3.9" fill="url(#spo)"/>
<circle cx="580.13" cy="525.92" r="3.9" fill="url(#spo)"/>
<circle cx="585.84" cy="517.7" r="3.9" fill="url(#spo)"/>
<circle cx="591.56" cy="513.32" r="3.9" fill="url(#spo)"/>
<circle cx="597.28" cy="522.63" r="3.9" fill="url(#spo)"/>
<circle cx="602.99" cy="523.73" r="3.9" fill="url(#spo)"/>
<circle cx="608.71" cy="526.46" r="3.9" fill="url(#spo)"/>
<circle cx="614.42" cy="430.1" r="3.9" fill="url(#spo)"/>
<circle cx="620.14" cy="529.2" r="3.9" fill="url(#spo)"/>
<path d="M397.22 475.55 L402.93 510.59 L408.65 518.8 L414.36 525.92 L420.08 528.65 L425.8 504.02 L431.51 493.07 L437.23 528.11 L442.94 524.82 L448.66 529.2 L454.38 442.7 L460.09 475.55 L465.81 512.78 L471.52 517.7 L477.24 518.8 L482.96 520.44 L488.67 518.8 L494.39 517.16 L500.1 529.2 L505.82 529.2" fill="none" stroke="#2a7646" stroke-width="1.1" stroke-linejoin="round"/>
<circle cx="397.22" cy="475.55" r="3.9" fill="url(#spk)"/>
<circle cx="402.93" cy="510.59" r="3.9" fill="url(#spk)"/>
<circle cx="408.65" cy="518.8" r="3.9" fill="url(#spk)"/>
<circle cx="414.36" cy="525.92" r="3.9" fill="url(#spk)"/>
<circle cx="420.08" cy="528.65" r="3.9" fill="url(#spk)"/>
<circle cx="425.8" cy="504.02" r="3.9" fill="url(#spk)"/>
<circle cx="431.51" cy="493.07" r="3.9" fill="url(#spk)"/>
<circle cx="437.23" cy="528.11" r="3.9" fill="url(#spk)"/>
<circle cx="442.94" cy="524.82" r="3.9" fill="url(#spk)"/>
<circle cx="448.66" cy="529.2" r="3.9" fill="url(#spk)"/>
<circle cx="454.38" cy="442.7" r="3.9" fill="url(#spk)"/>
<circle cx="460.09" cy="475.55" r="3.9" fill="url(#spk)"/>
<circle cx="465.81" cy="512.78" r="3.9" fill="url(#spk)"/>
<circle cx="471.52" cy="517.7" r="3.9" fill="url(#spk)"/>
<circle cx="477.24" cy="518.8" r="3.9" fill="url(#spk)"/>
<circle cx="482.96" cy="520.44" r="3.9" fill="url(#spk)"/>
<circle cx="488.67" cy="518.8" r="3.9" fill="url(#spk)"/>
<circle cx="494.39" cy="517.16" r="3.9" fill="url(#spk)"/>
<circle cx="500.1" cy="529.2" r="3.9" fill="url(#spk)"/>
<circle cx="505.82" cy="529.2" r="3.9" fill="url(#spk)"/>
<line x1="450" y1="353" x2="480" y2="353" stroke="#3a88cf" stroke-width="1.5"/>
<circle cx="465" cy="353" r="3.9" fill="url(#spb)"/>
<text x="483" y="357.4" class="lg">Unsoaked</text>
<line x1="534" y1="353" x2="564" y2="353" stroke="#8cc05e" stroke-width="1.5"/>
<circle cx="549" cy="353" r="3.9" fill="url(#spg)"/>
<text x="567" y="357.4" class="lg">25mm</text>
<line x1="450" y1="368.8" x2="480" y2="368.8" stroke="#f0b43e" stroke-width="1.5"/>
<circle cx="465" cy="368.8" r="3.9" fill="url(#spo)"/>
<text x="483" y="373.2" class="lg">50mm</text>
<line x1="534" y1="368.8" x2="564" y2="368.8" stroke="#2a7646" stroke-width="1.5"/>
<circle cx="549" cy="368.8" r="3.9" fill="url(#spk)"/>
<text x="567" y="373.2" class="lg">75mm</text>
<rect x="391.5" y="332.3" width="285.8" height="228.4" fill="none" stroke="#3e3e3e" stroke-width="1.2"/>
<line x1="391.5" y1="560.7" x2="391.5" y2="556.7" stroke="#3e3e3e" stroke-width="1"/>
<text x="391.5" y="577" class="tk" text-anchor="middle" textLength="6.65" lengthAdjust="spacingAndGlyphs">0</text>
<line x1="420.08" y1="560.7" x2="420.08" y2="558.3" stroke="#3e3e3e" stroke-width="1"/>
<line x1="448.66" y1="560.7" x2="448.66" y2="556.7" stroke="#3e3e3e" stroke-width="1"/>
<text x="448.66" y="577" class="tk" text-anchor="middle" textLength="13.3" lengthAdjust="spacingAndGlyphs">10</text>
<line x1="477.24" y1="560.7" x2="477.24" y2="558.3" stroke="#3e3e3e" stroke-width="1"/>
<line x1="505.82" y1="560.7" x2="505.82" y2="556.7" stroke="#3e3e3e" stroke-width="1"/>
<text x="505.82" y="577" class="tk" text-anchor="middle" textLength="13.3" lengthAdjust="spacingAndGlyphs">20</text>
<line x1="534.4" y1="560.7" x2="534.4" y2="558.3" stroke="#3e3e3e" stroke-width="1"/>
<line x1="562.98" y1="560.7" x2="562.98" y2="556.7" stroke="#3e3e3e" stroke-width="1"/>
<text x="562.98" y="577" class="tk" text-anchor="middle" textLength="13.3" lengthAdjust="spacingAndGlyphs">30</text>
<line x1="591.56" y1="560.7" x2="591.56" y2="558.3" stroke="#3e3e3e" stroke-width="1"/>
<line x1="620.14" y1="560.7" x2="620.14" y2="556.7" stroke="#3e3e3e" stroke-width="1"/>
<text x="620.14" y="577" class="tk" text-anchor="middle" textLength="13.3" lengthAdjust="spacingAndGlyphs">40</text>
<line x1="648.72" y1="560.7" x2="648.72" y2="558.3" stroke="#3e3e3e" stroke-width="1"/>
<line x1="677.3" y1="560.7" x2="677.3" y2="556.7" stroke="#3e3e3e" stroke-width="1"/>
<text x="677.3" y="577" class="tk" text-anchor="middle" textLength="13.3" lengthAdjust="spacingAndGlyphs">50</text>
<line x1="391.5" y1="545.62" x2="394.1" y2="545.62" stroke="#3e3e3e" stroke-width="1"/>
<line x1="391.5" y1="529.2" x2="395.9" y2="529.2" stroke="#3e3e3e" stroke-width="1"/>
<text x="387" y="533.6" class="tk" text-anchor="end" textLength="16.62" lengthAdjust="spacingAndGlyphs">0.0</text>
<line x1="391.5" y1="512.78" x2="394.1" y2="512.78" stroke="#3e3e3e" stroke-width="1"/>
<line x1="391.5" y1="496.35" x2="395.9" y2="496.35" stroke="#3e3e3e" stroke-width="1"/>
<text x="387" y="500.75" class="tk" text-anchor="end" textLength="16.62" lengthAdjust="spacingAndGlyphs">0.3</text>
<line x1="391.5" y1="479.93" x2="394.1" y2="479.93" stroke="#3e3e3e" stroke-width="1"/>
<line x1="391.5" y1="463.5" x2="395.9" y2="463.5" stroke="#3e3e3e" stroke-width="1"/>
<text x="387" y="467.9" class="tk" text-anchor="end" textLength="16.62" lengthAdjust="spacingAndGlyphs">0.6</text>
<line x1="391.5" y1="447.08" x2="394.1" y2="447.08" stroke="#3e3e3e" stroke-width="1"/>
<line x1="391.5" y1="430.65" x2="395.9" y2="430.65" stroke="#3e3e3e" stroke-width="1"/>
<text x="387" y="435.05" class="tk" text-anchor="end" textLength="16.62" lengthAdjust="spacingAndGlyphs">0.9</text>
<line x1="391.5" y1="414.23" x2="394.1" y2="414.23" stroke="#3e3e3e" stroke-width="1"/>
<line x1="391.5" y1="397.8" x2="395.9" y2="397.8" stroke="#3e3e3e" stroke-width="1"/>
<text x="387" y="402.2" class="tk" text-anchor="end" textLength="16.62" lengthAdjust="spacingAndGlyphs">1.2</text>
<line x1="391.5" y1="381.38" x2="394.1" y2="381.38" stroke="#3e3e3e" stroke-width="1"/>
<line x1="391.5" y1="364.95" x2="395.9" y2="364.95" stroke="#3e3e3e" stroke-width="1"/>
<text x="387" y="369.35" class="tk" text-anchor="end" textLength="16.62" lengthAdjust="spacingAndGlyphs">1.5</text>
<line x1="391.5" y1="348.53" x2="394.1" y2="348.53" stroke="#3e3e3e" stroke-width="1"/>
<line x1="391.5" y1="332.1" x2="395.9" y2="332.1" stroke="#3e3e3e" stroke-width="1"/>
<text x="387" y="336.5" class="tk" text-anchor="end" textLength="16.62" lengthAdjust="spacingAndGlyphs">1.8</text>
<text x="535" y="597.2" class="at" text-anchor="middle">Number of cycles</text>
<text transform="translate(364.5 447) rotate(-90)" class="at" text-anchor="middle"><tspan font-style="italic">U</tspan><tspan class="sup" dy="-6">d</tspan><tspan dy="6">(MJ/m</tspan><tspan class="sup" dy="-6">3</tspan><tspan dy="6">)</tspan></text>
<path d="M410.9 620.2 C403.7 623.46 403.7 631.74 410.9 635 C406.23 631.45 406.23 623.75 410.9 620.2 Z" fill="#111" stroke="#111" stroke-width="0.35"/>
<text x="413.8" y="634.5" class="cp" font-weight="bold">c</text>
<path d="M424.6 620.2 C432.47 623.46 432.47 631.74 424.6 635 C429.93 631.45 429.93 623.75 424.6 620.2 Z" fill="#111" stroke="#111" stroke-width="0.35"/>
<text x="440.8" y="634.5" class="cp">Dissipated energy</text>
</svg></body></html>
